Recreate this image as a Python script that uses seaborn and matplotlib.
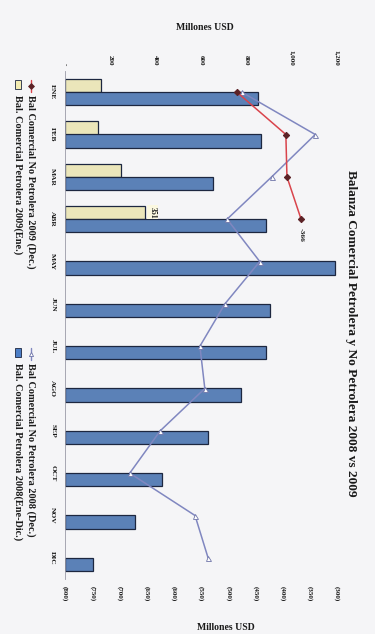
import matplotlib
matplotlib.use("Agg")
import matplotlib.pyplot as plt
from matplotlib.patches import Rectangle
from matplotlib.lines import Line2D
import seaborn as sns
import pandas as pd

# ---- data (millones USD) ----
months = ["ENE", "FEB", "MAR", "ABR", "MAY", "JUN", "JUL", "AGO", "SEP", "OCT", "NOV", "DIC"]
petrolera_2008 = [852, 863, 651, 888, 1192, 905, 888, 777, 631, 428, 309, 124]
petrolera_2009 = [159, 146, 247, 351]
no_petrolera_2008 = [-475, -340, -420, -502, -442, -506, -552, -543, -625, -681, -561, -537]
no_petrolera_2009 = [-484, -394, -392, -366]

top_ticks = [0, 200, 400, 600, 800, 1000, 1200]
top_labels = ["-", "200", "400", "600", "800", "1,000", "1,200"]
bottom_ticks = [-800, -750, -700, -650, -600, -550, -500, -450, -400, -350, -300]
bottom_labels = ["(800)", "(750)", "(700)", "(650)", "(600)", "(550)", "(500)",
                 "(450)", "(400)", "(350)", "(300)"]

lbl_p09 = "Bal. Comercial Petrolera 2009(Ene.)"
lbl_p08 = "Bal. Comercial Petrolera 2008(Ene-Dic.)"
lbl_n09 = "Bal Comercial No Petrolera 2009 (Dec.)"
lbl_n08 = "Bal Comercial No Petrolera 2008 (Dec.)"

bars = pd.DataFrame(
    [{"mes": m, "serie": lbl_p09, "valor": v} for m, v in zip(months, petrolera_2009)]
    + [{"mes": m, "serie": lbl_p08, "valor": v} for m, v in zip(months, petrolera_2008)]
)
line08 = pd.DataFrame({"valor": no_petrolera_2008, "pos": range(len(no_petrolera_2008))})
line09 = pd.DataFrame({"valor": no_petrolera_2009, "pos": range(len(no_petrolera_2009))})

# ---- style ----
sns.set_style("white")
plt.rcParams["font.family"] = ["Liberation Serif", "DejaVu Serif"]
plt.rcParams["font.weight"] = "bold"

BG = "#f5f5f7"
YELLOW = "#f3ecb2"
BLUE = "#4c7ec6"
EDGE = "#1d2740"
RED = "#d9444c"
LAV = "#8087c0"
TXT = "#1a1a1a"

fig = plt.figure(figsize=(3.75, 6.34), dpi=100, facecolor=BG)
W, H = 375.0, 634.0
ax = fig.add_axes([65 / W, 1 - 579 / H, 272 / W, 508 / H])
ax.set_facecolor(BG)

sns.barplot(data=bars, x="valor", y="mes", hue="serie", order=months,
            hue_order=[lbl_p09, lbl_p08], orient="h",
            palette={lbl_p09: YELLOW, lbl_p08: BLUE}, width=0.62,
            edgecolor=EDGE, linewidth=0.9, errorbar=None, legend=False, ax=ax)
ax.set_xlim(0, 1200)

# ---- non-oil balance lines on the secondary axis ----
ax2 = ax.twiny()
ax2.set_facecolor("none")
sns.lineplot(data=line08, x="valor", y="pos", orient="y", sort=False, color=LAV,
             linewidth=1.1, marker="^", markersize=3.6, markerfacecolor="white",
             markeredgecolor="#6e74a8", markeredgewidth=0.6, ax=ax2)
sns.lineplot(data=line09, x="valor", y="pos", orient="y", sort=False, color=RED,
             linewidth=1.1, marker="D", markersize=3.2, markerfacecolor="#5c2226",
             markeredgecolor="#5c2226", ax=ax2)
ax2.set_xlim(-800, -300)
ax2.xaxis.set_ticks_position("bottom")
ax2.xaxis.set_label_position("bottom")
ax2.set_xticks(bottom_ticks)
ax2.set_xticklabels(bottom_labels, rotation=-90, fontsize=5.0, color=TXT)
ax2.tick_params(axis="x", length=0, pad=5, top=False, labeltop=False,
                bottom=True, labelbottom=True)
ax2.set_xlabel("")
ax2.set_ylabel("")
for s in ax2.spines.values():
    s.set_visible(False)
ax2.text(no_petrolera_2009[-1], 3 + 0.22, f"{no_petrolera_2009[-1]}", rotation=-90,
         fontsize=5.4, color=TXT, ha="center", va="top")

# primary value axis along the top
ax.xaxis.set_ticks_position("top")
ax.xaxis.set_label_position("top")
ax.set_xticks(top_ticks)
ax.set_xticklabels(top_labels, rotation=-90, fontsize=5.0, color=TXT)
ax.tick_params(axis="x", length=0, pad=4, top=True, labeltop=True,
               bottom=False, labelbottom=False)
ax.tick_params(axis="y", length=0, pad=7)
ax.set_yticks(range(len(months)))
ax.set_yticklabels(months, rotation=-90, fontsize=5.4, color=TXT, va="center")
ax.set_xlabel("")
ax.set_ylabel("")
for s in ["top", "right", "bottom"]:
    ax.spines[s].set_visible(False)
ax.spines["left"].set_color("#9a9aa6")
ax.spines["left"].set_linewidth(0.6)

# value label on the last 2009 oil bar
ax.text(petrolera_2009[-1] + 18, 3 - 0.16, f"{petrolera_2009[-1]}", rotation=-90,
        fontsize=5.6, color=TXT, ha="left", va="center",
        bbox=dict(boxstyle="square,pad=0.15", fc="#fbf8e0", ec="none"))

ax.set_ylim(len(months) - 0.5, -0.5)

# ---- axis titles and chart title ----
fig.text(205 / W, 1 - 28 / H, "Millones USD", fontsize=7.0, color=TXT,
         ha="center", va="center")
fig.text(226 / W, 1 - 627 / H, "Millones USD", fontsize=7.0, color=TXT,
         ha="center", va="center")
fig.text(351 / W, 1 - 333 / H, "Balanza Comercial Petrolera y No Petrolera 2008 vs 2009",
         rotation=-90, fontsize=9.6, color=TXT, ha="center", va="center")

# ---- legend, drawn along the left edge ----
def legend_entry(x, y, kind, color, text):
    if kind == "box":
        fig.add_artist(Rectangle(((x - 3) / W, 1 - (y + 9) / H), 6 / W, 9 / H,
                                 transform=fig.transFigure, fc=color, ec=EDGE, lw=0.6))
    else:
        fig.add_artist(Line2D([x / W, x / W], [1 - y / H, 1 - (y + 12) / H],
                              transform=fig.transFigure, color=color, lw=1.0))
        fig.add_artist(Line2D([x / W], [1 - (y + 6) / H], transform=fig.transFigure,
                              marker=kind, ms=3, color=color,
                              mfc="#5c2226" if kind == "D" else "white",
                              mec="#5c2226" if kind == "D" else "#6e74a8", mew=0.6))
    fig.text(x / W, 1 - (y + 15) / H, text, rotation=-90, fontsize=7.4, color=TXT,
             ha="center", va="top")

legend_entry(18, 80, "box", YELLOW, lbl_p09)
legend_entry(18, 348, "box", BLUE, lbl_p08)
legend_entry(31, 80, "D", RED, lbl_n09)
legend_entry(31, 348, "^", LAV, lbl_n08)

fig.savefig("out.png", dpi=100, facecolor=BG)
